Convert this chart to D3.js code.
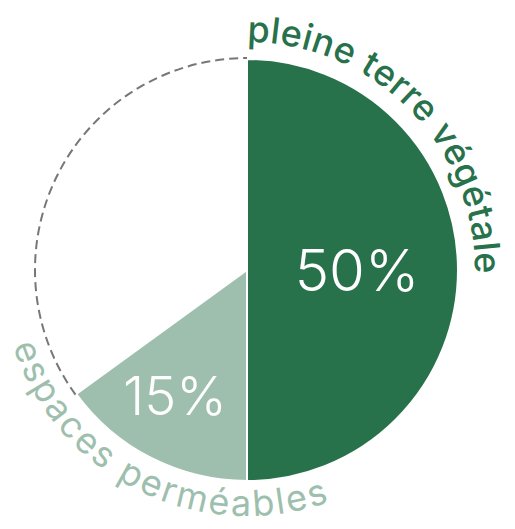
<!DOCTYPE html>
<html>
<head>
<meta charset="utf-8">
<script src="https://cdn.jsdelivr.net/npm/d3@7"></script>
<style>
  html, body { margin: 0; padding: 0; background: #fff; }
  svg { display: block; }
</style>
</head>
<body>
<svg width="515" height="529"></svg>
<script>
// data
var categories = ["pleine terre végétale", "espaces perméables", "autre"];
var values = [50, 15, 35];
var valueLabels = ["50%", "15%", ""];
var colors = ["#27714b", "#9ebfae", "none"];

var w = 515, h = 529,
    cx = 247, cy = 270,
    r = 211;

var svg = d3.select("svg");
var defs = svg.append("defs");
var g = svg.append("g").attr("transform", "translate(" + cx + "," + cy + ")");

var pie = d3.pie().sort(null).value(function(d) { return d; });
var slices = pie(values);

var arc = d3.arc().innerRadius(0).outerRadius(r);

// filled slices
g.selectAll(".slice")
  .data(slices.filter(function(d, i) { return colors[i] != "none"; }))
  .enter().append("path")
  .attr("class", "slice")
  .attr("d", arc)
  .style("fill", function(d) { return colors[d.index]; })
  .style("stroke", "#fff")
  .style("stroke-width", 2);

// dashed outline for the rest
function arcPath(radius, t0, t1, anti) {
  var p = d3.path();
  p.arc(0, 0, radius, t0 - Math.PI / 2, t1 - Math.PI / 2, anti);
  return p.toString();
}
var rest = slices[2];
g.append("path")
  .attr("d", arcPath(r + 1, rest.startAngle, rest.endAngle, false))
  .style("fill", "none")
  .style("stroke", "#777")
  .style("stroke-width", 2)
  .style("stroke-dasharray", "9,5");

// percentage labels
var labelPos = [[110, 0], [-72, 125]];
var labelSize = [58, 54];
slices.forEach(function(d, i) {
  if (!valueLabels[i]) return;
  g.append("text")
    .attr("x", labelPos[i][0])
    .attr("y", labelPos[i][1])
    .attr("text-anchor", "middle")
    .attr("dominant-baseline", "central")
    .style("font-family", "Inter")
    .style("font-weight", 300)
    .style("font-size", labelSize[i] + "px")
    .style("fill", "#fff")
    .text(valueLabels[i]);
});

// curved category labels
var deg = Math.PI / 180;
var curved = [
  {id: "c0", radius: 228, t0: 0 * deg, t1: 91 * deg, anti: false, color: "#27714b", weight: 500},
  {id: "c1", radius: 246, t0: 252 * deg, t1: 160 * deg, anti: true, color: "#9ebfae", weight: 400}
];
curved.forEach(function(c, i) {
  defs.append("path")
    .attr("id", c.id)
    .attr("d", arcPath(c.radius, c.t0, c.t1, c.anti));
  var txt = g.append("text")
    .style("font-family", "Inter")
    .style("font-weight", c.weight)
    .style("font-size", "36px")
    .style("fill", c.color);
  var tp = txt.append("textPath")
    .attr("href", "#" + c.id)
    .text(categories[i]);
  // spread the letters so the label covers its arc
  var target = c.radius * Math.abs(c.t1 - c.t0);
  var len = tp.node().getComputedTextLength();
  var n = categories[i].length;
  txt.style("letter-spacing", ((target - len) / n) + "px");
});
</script>
</body>
</html>
